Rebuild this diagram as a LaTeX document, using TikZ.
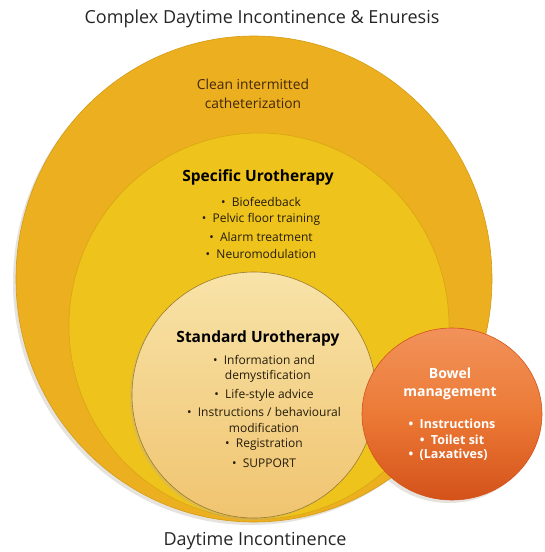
\documentclass[tikz,border=0pt]{standalone}
\usepackage{fontspec}
\setmainfont{Open Sans}
\usetikzlibrary{shapes.geometric}

\definecolor{outerfill}{HTML}{EBAF1F}
\definecolor{outeredge}{HTML}{D49A14}
\definecolor{midfill}{HTML}{EEC31C}
\definecolor{midedge}{HTML}{D9A612}
\definecolor{innertop}{HTML}{F8E3A8}
\definecolor{innerbot}{HTML}{F0C470}
\definecolor{inneredge}{HTML}{9C7A2A}
\definecolor{bowtop}{HTML}{F1925A}
\definecolor{bowmid}{HTML}{EC7A36}
\definecolor{bowbot}{HTML}{D4521A}
\definecolor{titletext}{HTML}{262626}
\definecolor{browntext}{HTML}{42280A}
\definecolor{darktext}{HTML}{251C0A}
\definecolor{shadowgray}{HTML}{B8B0A0}

\tikzset{
  ring/.style={ellipse, inner sep=0pt, line width=0.6pt},
  shadowring/.style={ellipse, inner sep=0pt, fill=shadowgray, opacity=0.35},
  caption/.style={font=\fontsize{18}{21}\selectfont, text=titletext},
  heading/.style={font=\fontsize{15.5}{18}\selectfont\bfseries, text=black},
  item/.style={font=\fontsize{12}{15}\selectfont, text=darktext, align=center},
  bowelhead/.style={font=\fontsize{14}{18}\selectfont\bfseries, text=white, align=center},
  bowelitem/.style={font=\fontsize{12.5}{15}\selectfont\bfseries, text=white}
}

\begin{document}
\begin{tikzpicture}[x=1pt,y=-1pt]
\useasboundingbox (0,0) rectangle (544,552);

% soft shadows under the rings
\node[shadowring, minimum width=476pt, minimum height=486pt] (outersh) at (251,282) {};
\node[shadowring, minimum width=180pt, minimum height=172pt] (bowelsh) at (449,417) {};

% nested rings
\node[ring, draw=outeredge, fill=outerfill, minimum width=476pt, minimum height=486pt] (outer) at (254,279) {};
\node[ring, draw=midedge, fill=midfill, minimum width=380pt, minimum height=386pt] (middle) at (259,326) {};
\node[shadowring, minimum width=244pt, minimum height=246pt] (innersh) at (252,397) {};
\node[ring, draw=inneredge, top color=innertop, bottom color=innerbot, minimum width=244pt, minimum height=246pt] (inner) at (254,395) {};

% bowel management disc
\node[ring, draw=bowbot, top color=bowtop, bottom color=bowbot, middle color=bowmid, minimum width=180pt, minimum height=172pt] (bowel) at (452,414) {};

% captions
\node[caption] (complex) at (262,19) {Complex Daytime Incontinence \& Enuresis};
\node[caption] (daytime) at (255,541) {Daytime Incontinence};

% outer ring text
\node[font=\fontsize{13.8}{18.5}\selectfont, text=browntext, align=center] (cic) at (253,94) {Clean intermitted\\catheterization};

% specific urotherapy
\node[heading] (spec) at (258,177) {Specific Urotherapy};
\node[item] (s1) at (261,202) {\textbullet\ \ Biofeedback};
\node[item] (s2) at (261,219) {\textbullet\ \ Pelvic floor training};
\node[item] (s3) at (261,237) {\textbullet\ \ Alarm treatment};
\node[item] (s4) at (261,254) {\textbullet\ \ Neuromodulation};

% standard urotherapy
\node[heading] (std) at (258,338) {Standard Urotherapy};
\node[item, font=\fontsize{12}{15.5}\selectfont] (t1) at (264,369) {\textbullet\ \ Information and\\\phantom{\textbullet\ }demystification};
\node[item] (t2) at (264,395) {\textbullet\ \ Life-style advice};
\node[item, font=\fontsize{12}{15.5}\selectfont] (t3) at (264,420) {\textbullet\ \ Instructions / behavioural\\modification};
\node[item] (t4) at (264,445) {\textbullet\ \ Registration};
\node[item] (t5) at (264,463) {\textbullet\ \ SUPPORT};

% bowel management text
\node[bowelhead] (bowtitle) at (450,384) {Bowel\\management};
\node[bowelitem] (b1) at (452,424) {\textbullet\ \ Instructions};
\node[bowelitem] (b2) at (452,440) {\textbullet\ \ Toilet sit};
\node[bowelitem] (b3) at (448,455) {\textbullet\ \ (Laxatives)};
\end{tikzpicture}
\end{document}
